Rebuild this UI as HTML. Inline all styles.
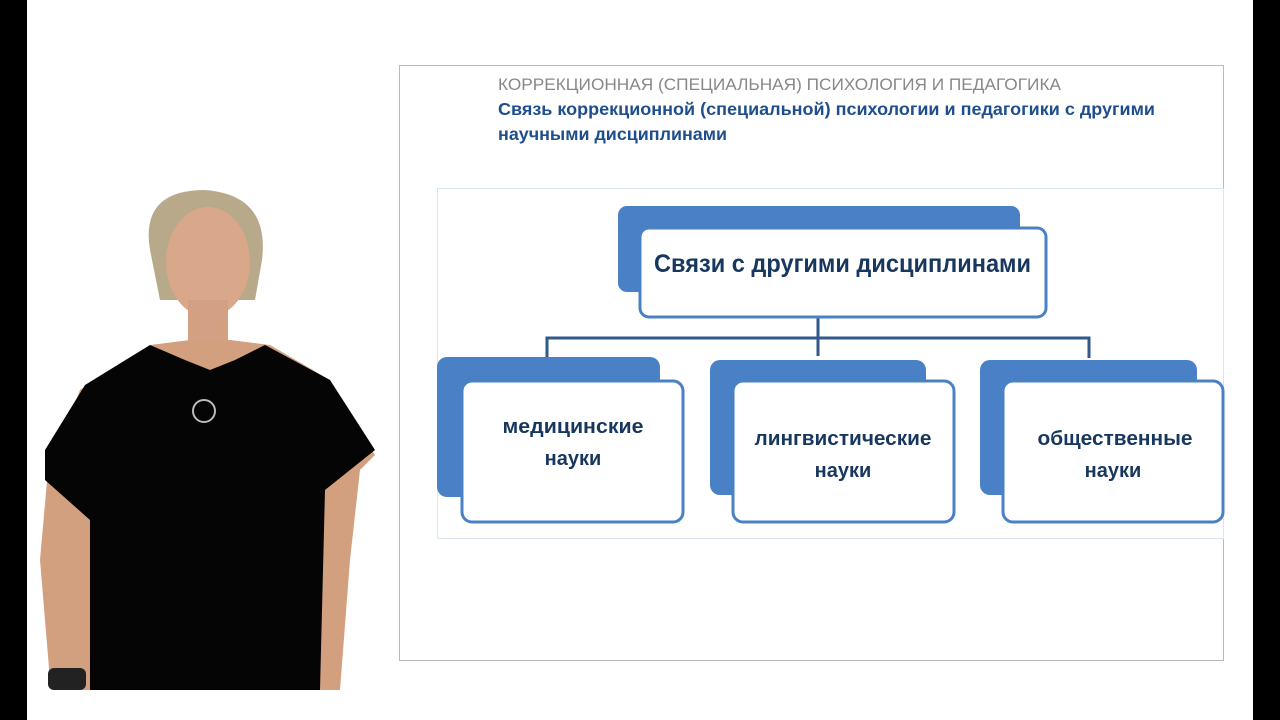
<!DOCTYPE html>
<html><head><meta charset="utf-8"><style>
body{margin:0;width:1280px;height:720px;overflow:hidden;background:#fff;font-family:"Liberation Sans","DejaVu Sans",sans-serif}
</style></head><body>
<svg width="1280" height="720" viewBox="0 0 1280 720" xmlns="http://www.w3.org/2000/svg" style="position:absolute;left:0;top:0">
<rect x="0" y="0" width="1280" height="720" fill="#fff"/>
<rect x="0" y="0" width="27" height="720" fill="#000"/>
<rect x="1253" y="0" width="27" height="720" fill="#000"/>
<!-- person -->
<path d="M150 250 Q140 190 205 190 Q270 195 262 260 L255 300 L160 300 Z" fill="#b8a98a"/>
<ellipse cx="208" cy="262" rx="42" ry="55" fill="#d9a88a"/>
<rect x="188" y="300" width="40" height="50" fill="#d4a083"/>
<path d="M70 690 L50 680 L40 560 L48 470 L80 390 L150 345 L190 340 L230 340 L270 345 L330 380 L375 455 L360 470 L350 560 L340 690 Z" fill="#d2a07e"/>
<path d="M90 690 L90 520 L45 480 L45 450 L85 385 L150 345 L185 360 L210 370 L235 360 L265 345 L330 380 L375 450 L325 490 L320 690 Z" fill="#050505"/>
<rect x="48" y="668" width="38" height="22" rx="6" fill="#222"/>
<circle cx="204" cy="411" r="11" fill="none" stroke="#bbb" stroke-width="2"/>
<!-- slide -->
<rect x="399.5" y="65.5" width="824" height="595" fill="#fff" stroke="#bbb"/>
<text x="498" y="90" font-size="16.5" fill="#888" textLength="563" lengthAdjust="spacingAndGlyphs">КОРРЕКЦИОННАЯ (СПЕЦИАЛЬНАЯ) ПСИХОЛОГИЯ И ПЕДАГОГИКА</text>
<text x="498" y="115" font-size="17.5" font-weight="bold" fill="#1f4e8c" textLength="657" lengthAdjust="spacingAndGlyphs">Связь коррекционной (специальной) психологии и педагогики с другими</text>
<text x="498" y="140" font-size="17.5" font-weight="bold" fill="#1f4e8c" textLength="229" lengthAdjust="spacingAndGlyphs">научными дисциплинами</text>
<rect x="437.5" y="188.5" width="786" height="350" fill="#fff" stroke="#d8e6f4"/>
<g fill="none" stroke="#2f5a8a" stroke-width="3">
<line x1="818" y1="317" x2="818" y2="356"/>
<polyline points="547,358 547,338 1089,338 1089,358"/>
</g>
<rect x="618" y="206" width="402" height="86" rx="9" fill="#4a81c6"/>
<rect x="640" y="228" width="406" height="89" rx="9" fill="#fff" stroke="#4a81c6" stroke-width="3"/>
<text x="654" y="272" font-size="25" font-weight="bold" fill="#17375e" textLength="377" lengthAdjust="spacingAndGlyphs">Связи с другими дисциплинами</text>
<g>
<rect x="437" y="357" width="223" height="140" rx="10" fill="#4a81c6"/>
<rect x="462" y="381" width="221" height="141" rx="10" fill="#fff" stroke="#4a81c6" stroke-width="3"/>
<rect x="710" y="360" width="216" height="135" rx="10" fill="#4a81c6"/>
<rect x="733" y="381" width="221" height="141" rx="10" fill="#fff" stroke="#4a81c6" stroke-width="3"/>
<rect x="980" y="360" width="217" height="135" rx="10" fill="#4a81c6"/>
<rect x="1003" y="381" width="220" height="141" rx="10" fill="#fff" stroke="#4a81c6" stroke-width="3"/>
</g>
<g font-size="20" font-weight="bold" fill="#17375e" text-anchor="middle">
<text x="573" y="433" textLength="141" lengthAdjust="spacingAndGlyphs">медицинские</text><text x="573" y="465">науки</text>
<text x="843" y="445" textLength="177" lengthAdjust="spacingAndGlyphs">лингвистические</text><text x="843" y="477">науки</text>
<text x="1115" y="445" textLength="155" lengthAdjust="spacingAndGlyphs">общественные</text><text x="1113" y="477">науки</text>
</g>
</svg>
</body></html>
